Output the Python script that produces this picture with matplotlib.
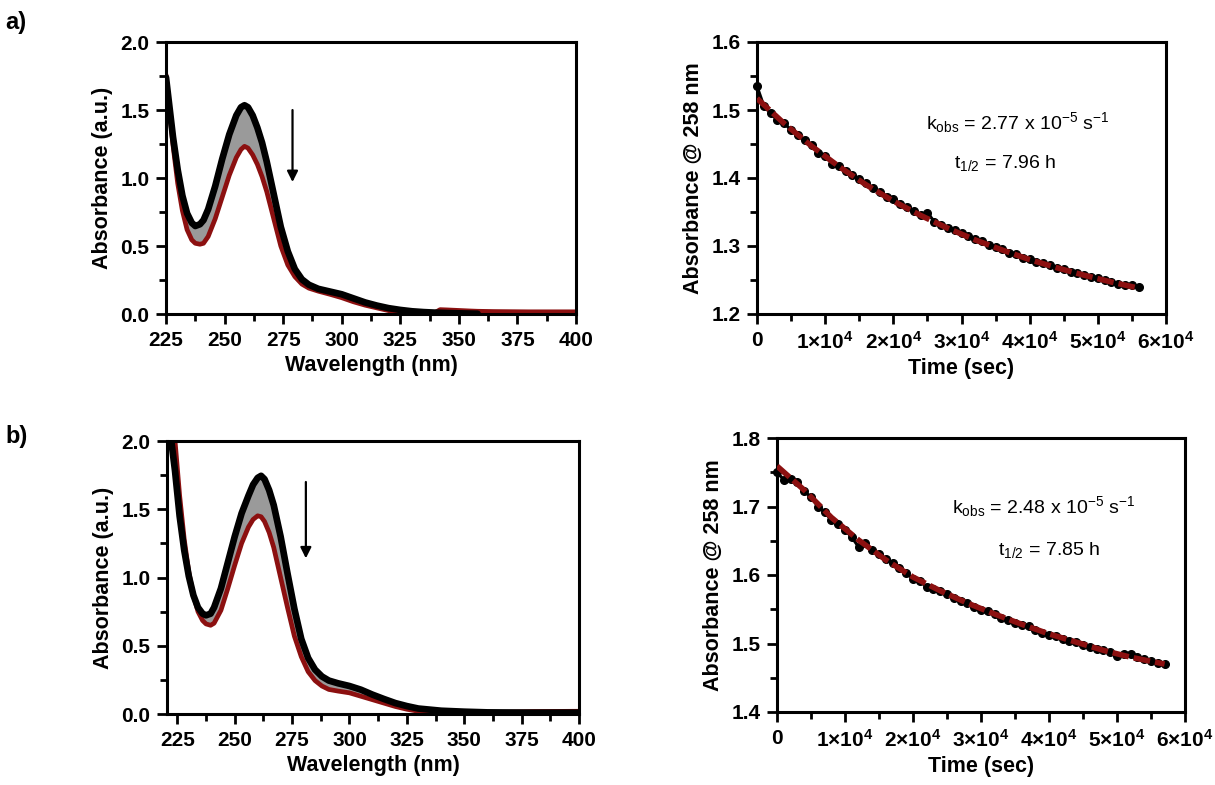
import numpy as np
import matplotlib
matplotlib.use("Agg")
import matplotlib.pyplot as plt
from matplotlib.ticker import MultipleLocator, FormatStrFormatter, FixedLocator

plt.rcParams['font.family'] = ['Liberation Sans', 'DejaVu Sans']
plt.rcParams['font.weight'] = 'bold'

# ---- panel a) spectra: first (black) and last (red) scan ----
wl_a = [225, 228, 230, 232, 234, 236, 237.5, 239.5, 241, 243, 246, 249, 252, 255, 257, 258.5,
        260, 262, 264, 266, 268, 271, 274, 277, 280, 283, 286, 290, 295, 300, 305, 310,
        315, 320, 325, 330, 335, 340, 342, 345, 350, 355, 358, 365, 380, 400]
abs_a_first = [1.74, 1.30, 1.06, 0.87, 0.74, 0.67, 0.647, 0.66, 0.69, 0.77, 0.94, 1.14, 1.32, 1.46, 1.52, 1.535,
               1.52, 1.46, 1.37, 1.26, 1.12, 0.88, 0.64, 0.46, 0.33, 0.255, 0.215, 0.185, 0.165, 0.145, 0.115, 0.085,
               0.062, 0.043, 0.03, 0.02, 0.014, 0.01, 0.009, 0.007, 0.005, 0.003, 0.002, 0.002, 0.002, 0.002]
abs_a_last = [1.76, 1.24, 0.96, 0.76, 0.62, 0.545, 0.52, 0.513, 0.52, 0.57, 0.70, 0.86, 1.02, 1.15, 1.21, 1.233,
              1.22, 1.17, 1.10, 1.01, 0.90, 0.70, 0.50, 0.36, 0.275, 0.22, 0.19, 0.168, 0.145, 0.12, 0.09, 0.065,
              0.045, 0.025, 0.012, 0.006, 0.005, 0.012, 0.032, 0.03, 0.026, 0.022, 0.02, 0.018, 0.016, 0.016]
end_first_a = 358

# ---- panel b) spectra ----
wl_b = [222, 224, 226, 228, 230, 232, 234, 236, 237.5, 239.5, 241, 244, 247, 250, 253, 256, 258,
        260, 261.5, 263, 265, 267, 270, 273, 276, 279, 282, 285, 288, 291, 295, 300, 305, 310,
        315, 320, 325, 330, 340, 350, 360, 380, 400]
abs_b_first = [2.05, 1.78, 1.45, 1.20, 1.01, 0.87, 0.78, 0.735, 0.723, 0.735, 0.78, 0.92, 1.11, 1.30, 1.47, 1.60, 1.68,
               1.73, 1.745, 1.72, 1.64, 1.53, 1.30, 1.03, 0.77, 0.55, 0.41, 0.325, 0.275, 0.245, 0.225, 0.205, 0.178, 0.142,
               0.11, 0.08, 0.058, 0.04, 0.024, 0.017, 0.012, 0.01, 0.01]
abs_b_last = [2.15, 2.0, 1.60, 1.28, 1.04, 0.87, 0.75, 0.685, 0.66, 0.65, 0.665, 0.76, 0.92, 1.09, 1.25, 1.37, 1.425,
              1.452, 1.445, 1.41, 1.33, 1.22, 1.00, 0.78, 0.57, 0.42, 0.31, 0.245, 0.205, 0.18, 0.168, 0.155, 0.13, 0.105,
              0.08, 0.055, 0.035, 0.02, 0.01, 0.006, 0.01, 0.018, 0.02]

# ---- kinetics a) absorbance at 258 nm ----
t_a = [i * 1000 for i in range(57)]
abs258_a = [1.535, 1.506, 1.495, 1.485, 1.481, 1.470, 1.463, 1.456, 1.449, 1.437,
            1.433, 1.421, 1.418, 1.411, 1.404, 1.398, 1.392, 1.386, 1.380, 1.372,
            1.369, 1.362, 1.357, 1.351, 1.346, 1.349, 1.336, 1.331, 1.327, 1.324,
            1.319, 1.314, 1.311, 1.307, 1.302, 1.298, 1.295, 1.290, 1.288, 1.283,
            1.281, 1.277, 1.275, 1.272, 1.268, 1.266, 1.262, 1.260, 1.257, 1.254,
            1.253, 1.250, 1.247, 1.244, 1.242, 1.243, 1.239]
t_fit_a = [0, 4000, 8000, 12000, 16000, 20000, 24000, 28000, 32000, 36000, 40000, 44000, 48000, 52000, 56000]
fit_a = [1.517, 1.480, 1.447, 1.417, 1.390, 1.366, 1.345, 1.326, 1.309, 1.294, 1.280, 1.268, 1.257, 1.247, 1.238]

# ---- kinetics b) ----
t_b = [i * 1000 for i in range(58)]
abs258_b = [1.750, 1.739, 1.740, 1.736, 1.722, 1.714, 1.700, 1.692, 1.680, 1.674,
            1.666, 1.655, 1.641, 1.646, 1.637, 1.630, 1.623, 1.618, 1.610, 1.603,
            1.594, 1.591, 1.583, 1.580, 1.576, 1.572, 1.567, 1.562, 1.559, 1.554,
            1.549, 1.547, 1.543, 1.537, 1.534, 1.530, 1.527, 1.525, 1.520, 1.516,
            1.513, 1.511, 1.507, 1.503, 1.502, 1.498, 1.495, 1.492, 1.490, 1.487,
            1.482, 1.484, 1.485, 1.481, 1.477, 1.475, 1.472, 1.470]
t_fit_b = [0, 4000, 8000, 12000, 16000, 20000, 24000, 28000, 32000, 36000, 40000, 44000, 48000, 52000, 57000]
fit_b = [1.759, 1.724, 1.684, 1.651, 1.622, 1.597, 1.577, 1.559, 1.543, 1.528, 1.514, 1.502, 1.490, 1.480, 1.470]

kin_text = {
    'a': (r'k$\mathregular{_{obs}}$ = 2.77 x 10$\mathregular{^{-5}}$ s$\mathregular{^{-1}}$',
          r't$\mathregular{_{1/2}}$ = 7.96 h'),
    'b': (r'k$\mathregular{_{obs}}$ = 2.48 x 10$\mathregular{^{-5}}$ s$\mathregular{^{-1}}$',
          r't$\mathregular{_{1/2}}$ = 7.85 h'),
}

red = '#8c1010'
gray = '#9a9a9a'
W, H = 1215, 785


def box(l, t, r, b):
    return [l / W, 1 - b / H, (r - l) / W, (b - t) / H]


def style(ax):
    for s in ax.spines.values():
        s.set_linewidth(2.2)
    ax.tick_params(which='major', direction='out', length=7, width=2, labelsize=15, pad=5)
    ax.tick_params(which='minor', direction='out', length=5, width=2)
    for lab in ax.get_xticklabels() + ax.get_yticklabels():
        lab.set_fontweight('bold')


def spectra(ax, wl, first, last, first_end, xlim, arrow):
    wl = np.array(wl)
    first = np.array(first)
    last = np.array(last)
    ax.fill_between(wl, np.minimum(first, last), np.maximum(first, last), color=gray, lw=0)
    ax.plot(wl, last, color=red, lw=3.4, solid_capstyle='round')
    m = wl <= first_end
    ax.plot(wl[m], first[m], color='black', lw=4.8, solid_capstyle='round')
    ax.set_xlim(*xlim)
    ax.set_ylim(0, 2.0)
    ax.xaxis.set_major_locator(FixedLocator([225, 250, 275, 300, 325, 350, 375, 400]))
    ax.xaxis.set_minor_locator(FixedLocator([237.5, 262.5, 287.5, 312.5, 337.5, 362.5, 387.5]))
    ax.yaxis.set_major_locator(MultipleLocator(0.5))
    ax.yaxis.set_minor_locator(MultipleLocator(0.25))
    ax.yaxis.set_major_formatter(FormatStrFormatter('%.1f'))
    ax.set_xlabel('Wavelength (nm)', fontsize=15.5, fontweight='bold', labelpad=4)
    ax.set_ylabel('Absorbance (a.u.)', fontsize=15.5, fontweight='bold', labelpad=5)
    ax.annotate('', xy=(arrow[0], arrow[2]), xytext=(arrow[0], arrow[1]),
                arrowprops=dict(arrowstyle='-|>', color='black', lw=1.6, mutation_scale=16))
    style(ax)


def kinetics(ax, t, y, tf, yf, ylim, texts, tpos):
    ax.plot(t, y, color='black', lw=2.2, marker='o', ms=5.5, clip_on=False, zorder=3)
    ax.plot(tf, yf, color=red, lw=4.0, ls=(0, (3, 0.9)), zorder=4)
    ax.set_xlim(0, 60000)
    ax.set_ylim(*ylim)
    ax.xaxis.set_major_locator(MultipleLocator(10000))
    ax.xaxis.set_minor_locator(MultipleLocator(5000))
    ax.yaxis.set_major_locator(MultipleLocator(0.1))
    ax.yaxis.set_minor_locator(MultipleLocator(0.05))
    ax.yaxis.set_major_formatter(FormatStrFormatter('%.1f'))
    ax.set_xticks([0, 10000, 20000, 30000, 40000, 50000, 60000])
    ax.set_xticklabels(['0'] + [r'%d×10$\mathregular{^{4}}$' % k for k in range(1, 7)])
    ax.set_xlabel('Time (sec)', fontsize=15.5, fontweight='bold', labelpad=4)
    ax.set_ylabel('Absorbance @ 258 nm', fontsize=15.5, fontweight='bold', labelpad=5)
    fam = ['Liberation Sans Narrow', 'Liberation Sans', 'DejaVu Sans']
    ax.text(tpos[0], tpos[1], texts[0], ha='center', va='center', fontsize=14,
            fontweight='normal', family=fam)
    ax.text(tpos[2], tpos[3], texts[1], ha='center', va='center', fontsize=14,
            fontweight='normal', family=fam)
    style(ax)


fig = plt.figure(figsize=(12.15, 7.85), dpi=100)

ax1 = fig.add_axes(box(166, 42, 576, 314))
spectra(ax1, wl_a, abs_a_first, abs_a_last, end_first_a, (225, 400), (279, 1.52, 0.95))

ax2 = fig.add_axes(box(757, 42, 1166, 314))
kinetics(ax2, t_a, abs258_a, t_fit_a, fit_a, (1.2, 1.6), kin_text['a'], (38300, 1.482, 36400, 1.422))

ax3 = fig.add_axes(box(167, 441, 579, 714))
spectra(ax3, wl_b, abs_b_first, abs_b_last, 400, (220.5, 400), (281, 1.72, 1.12))

ax4 = fig.add_axes(box(777, 438, 1185, 712))
kinetics(ax4, t_b, abs258_b, t_fit_b, fit_b, (1.4, 1.8), kin_text['b'], (39200, 1.700, 40000, 1.636))

fig.text(5 / W, 1 - 22 / H, 'a)', fontsize=17, fontweight='bold', va='center')
fig.text(5 / W, 1 - 437 / H, 'b)', fontsize=17, fontweight='bold', va='center')

fig.savefig('out.png', dpi=100)
